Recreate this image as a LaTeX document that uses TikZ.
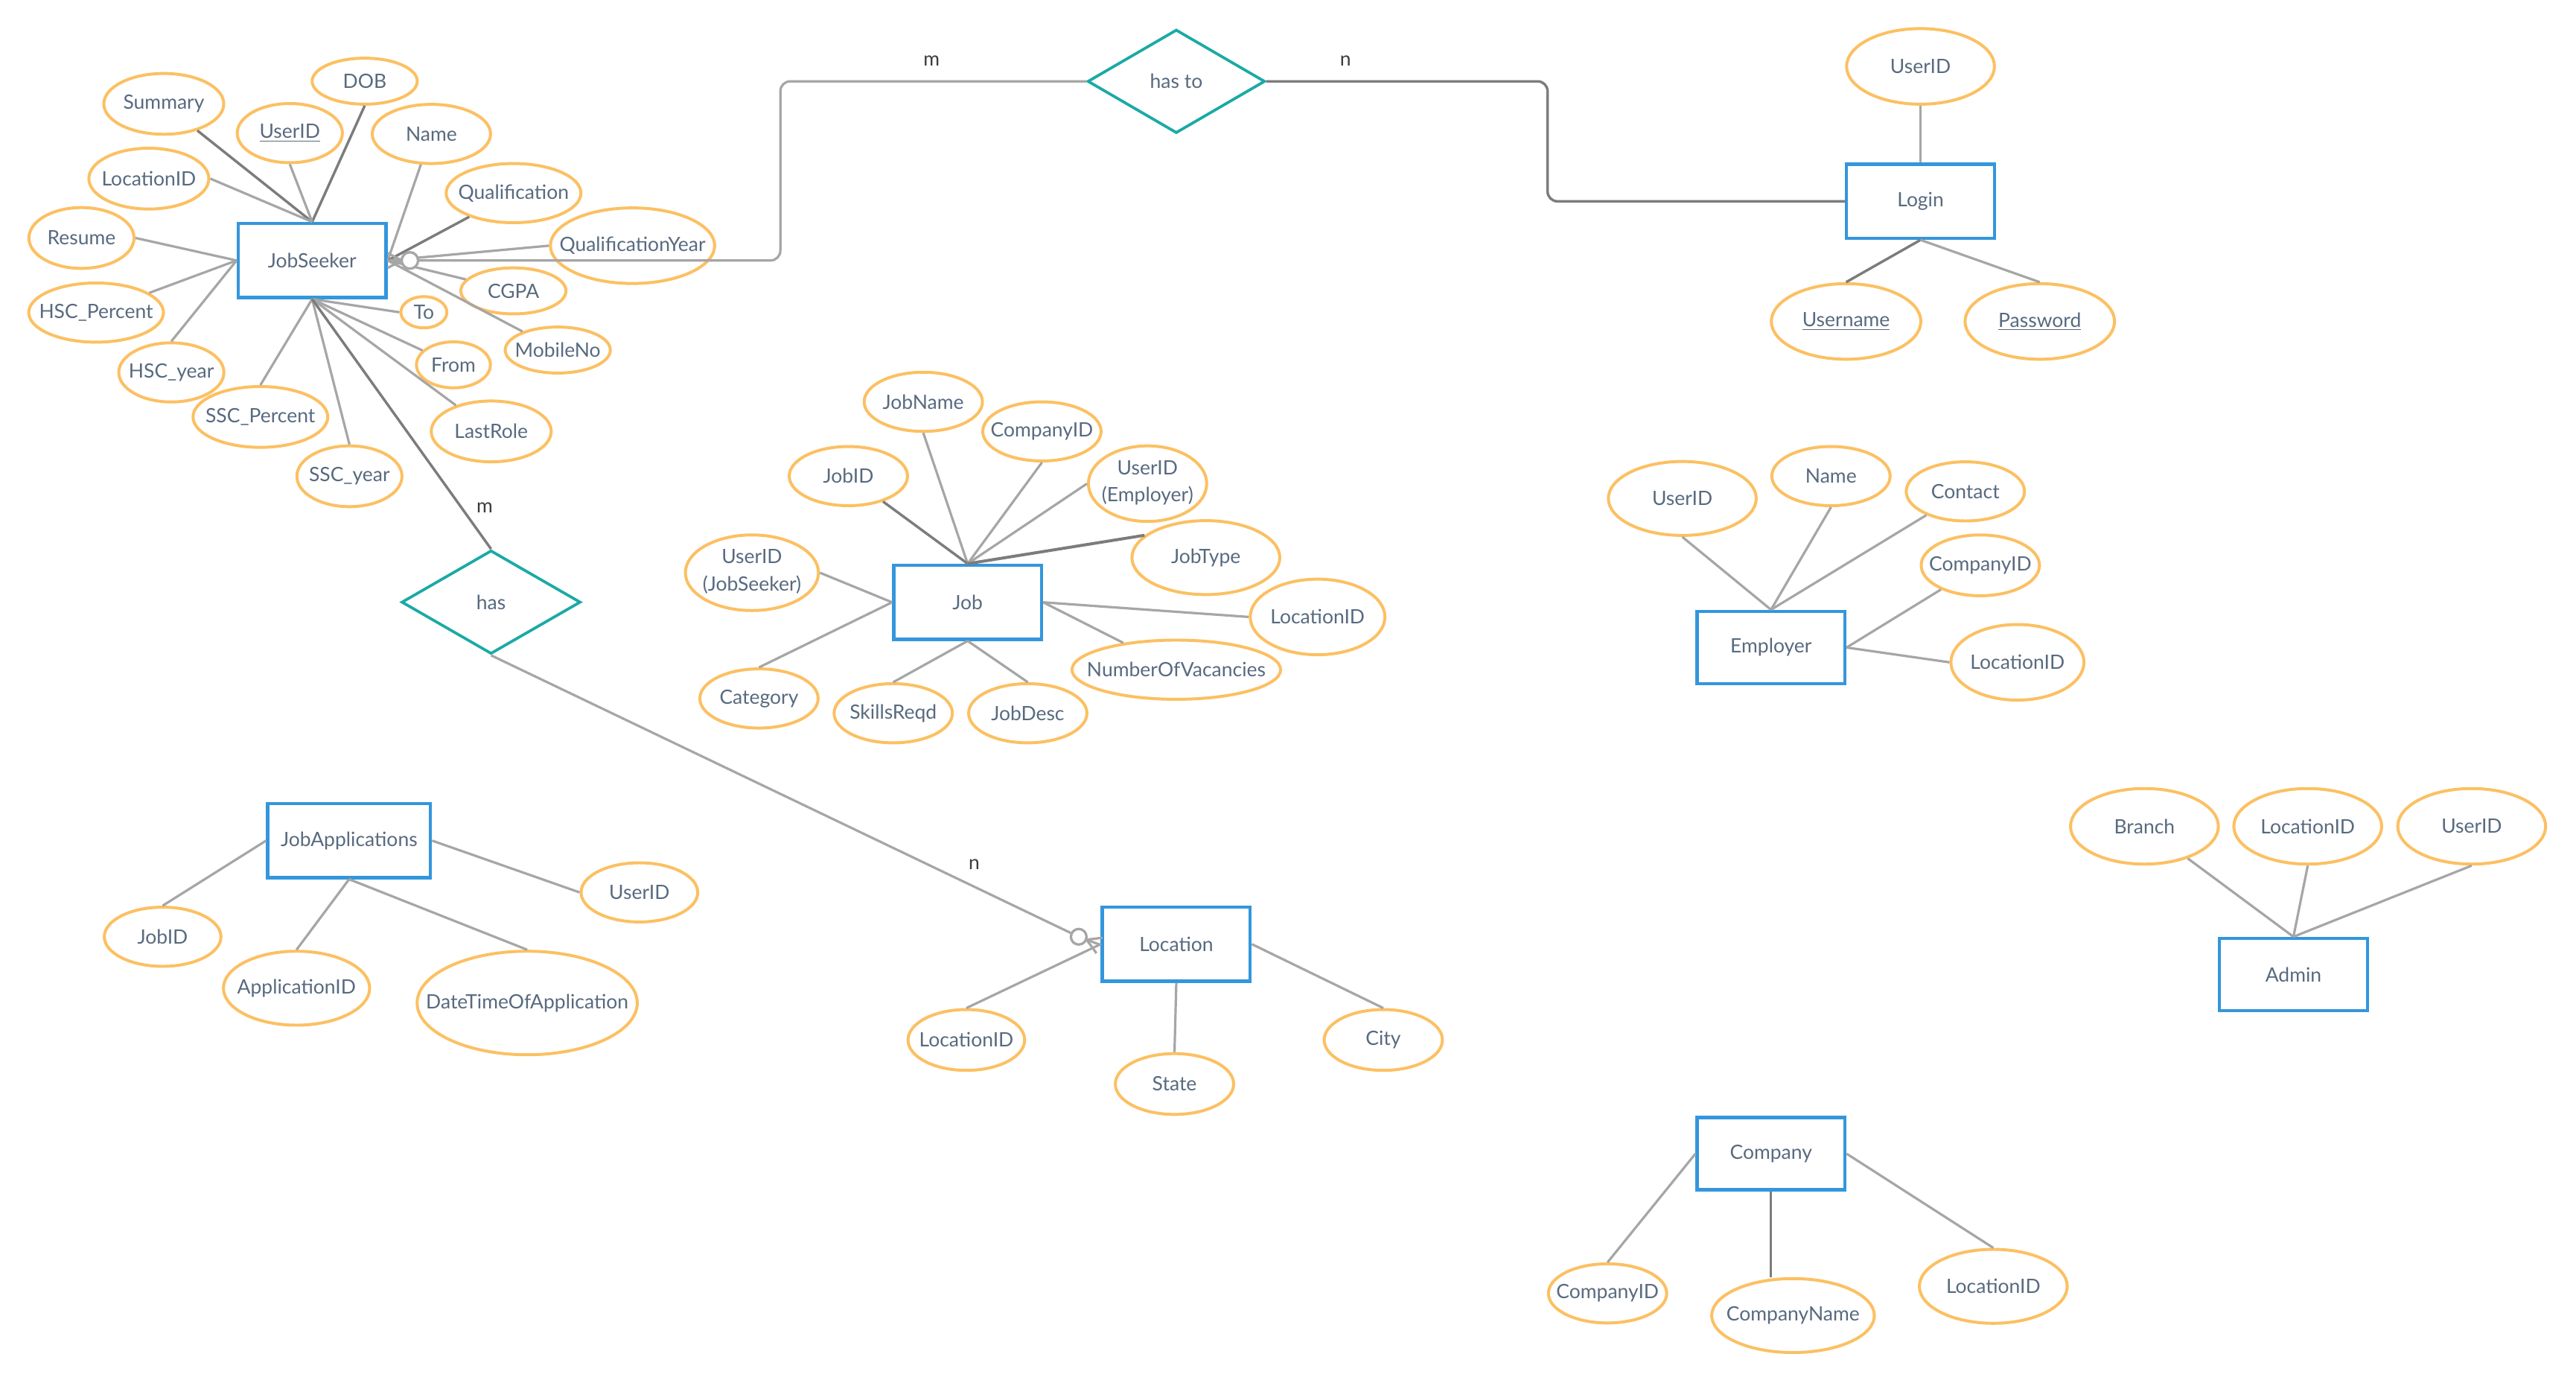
\documentclass[tikz,border=0pt]{standalone}
\usepackage{fontspec}
\setmainfont{Lato}
\usetikzlibrary{shapes.geometric,calc}
\definecolor{entblue}{HTML}{3496DC}
\definecolor{attrorange}{HTML}{FCC062}
\definecolor{reltealc}{HTML}{1BAAA5}
\definecolor{txtslate}{HTML}{586A7F}
\definecolor{lgray}{HTML}{A6A6A6}
\definecolor{dgray}{HTML}{7C7C7C}
\definecolor{cardtxt}{HTML}{3C3C3C}
% zero-width text so the ellipse keeps its given size
\newcommand{\attrtext}[1]{\makebox[0pt]{#1}}
\newcommand{\twolines}[2]{\makebox[0pt]{\begin{tabular}{@{}c@{}}#1\\[2.5pt]#2\end{tabular}}}
\begin{document}
\begin{tikzpicture}[x=1pt,y=-1pt,
  font=\fontsize{12}{14}\selectfont,
  ent/.style={draw=entblue, line width=2pt, minimum width=90, minimum height=45, inner sep=0pt, text=txtslate},
  attr/.style 2 args={ellipse, draw=attrorange, line width=1.8pt, inner sep=0pt, text=txtslate, minimum width=#1, minimum height=#2},
  rel/.style={diamond, draw=reltealc, line width=1.7pt, inner sep=0pt, minimum width=108, minimum height=63, text=txtslate},
  lt/.style={draw=lgray, line width=1.45pt},
  dk/.style={draw=dgray, line width=1.55pt},
  card/.style={text=cardtxt, inner sep=0pt},
  ring/.style={circle, draw=lgray, fill=white, line width=1.5pt, minimum size=10, inner sep=0pt}]
\useasboundingbox (0,0) rectangle (1568,843);
\fill[white] (0,0) rectangle (1568,843);

% ---------- entities ----------
\node[ent] (js) at (190,158.5) {JobSeeker};
\node[ent] (login) at (1169,122.5) {Login};
\node[ent] (job) at (589,366.5) {Job};
\node[ent, minimum height=44] (em) at (1078,394) {Employer};
\node[ent, minimum width=99] (ja) at (212.5,511.5) {JobApplications};
\node[ent] (loc) at (716,574.5) {Location};
\node[ent, minimum height=44] (ad) at (1396,593) {Admin};
\node[ent, minimum height=44] (co) at (1078,702) {Company};

% ---------- relationships ----------
\node[rel] (hasto) at (716,49.5) {has to};
\node[rel, minimum width=109] (has) at (298.9,366.4) {has};

% ---------- JobSeeker attributes ----------
\node[attr={73}{37}] (jsSummary) at (99.7,63.2) {\attrtext{Summary}};
\node[attr={64}{28}] (jsDOB) at (222,49.4) {\attrtext{DOB}};
\node[attr={64}{36}] (jsUser) at (176.4,81) {\attrtext{\underline{UserID}}};
\node[attr={72}{36}] (jsName) at (262.6,81.5) {\attrtext{Name}};
\node[attr={73}{37}] (jsLoc) at (90.6,108.7) {\attrtext{LocationID}};
\node[attr={82}{36}] (jsQual) at (312.6,117.5) {\attrtext{Qualification}};
\node[attr={64}{37}] (jsResume) at (49.6,144.8) {\attrtext{Resume}};
\node[attr={100}{46}] (jsQY) at (385,149.5) {\attrtext{QualificationYear}};
\node[attr={64}{28}] (jsCGPA) at (312.5,177) {\attrtext{CGPA}};
\node[attr={82}{36}] (jsHSCP) at (58.5,190.2) {\attrtext{HSC\_Percent}};
\node[attr={28}{19}] (jsTo) at (258,190) {\attrtext{To}};
\node[attr={64}{28}] (jsMobile) at (339.5,213) {\attrtext{MobileNo}};
\node[attr={45}{28}] (jsFrom) at (276,222) {\attrtext{From}};
\node[attr={64}{36}] (jsHSCY) at (104.3,226.6) {\attrtext{HSC\_year}};
\node[attr={82}{37}] (jsSSCP) at (158.5,253.7) {\attrtext{SSC\_Percent}};
\node[attr={73}{37}] (jsLast) at (299,262.5) {\attrtext{LastRole}};
\node[attr={64}{37}] (jsSSCY) at (212.7,289.8) {\attrtext{SSC\_year}};

% ---------- Login attributes ----------
\node[attr={90}{46}] (lgUser) at (1169,40.4) {\attrtext{UserID}};
\node[attr={91}{46}] (lgUname) at (1123.7,195.6) {\attrtext{\underline{Username}}};
\node[attr={91}{46}] (lgPass) at (1241.6,195.6) {\attrtext{\underline{Password}}};

% ---------- Job attributes ----------
\node[attr={72}{36}] (jbName) at (562,244.5) {\attrtext{JobName}};
\node[attr={72}{36}] (jbComp) at (634.2,262.5) {\attrtext{CompanyID}};
\node[attr={72}{36}] (jbID) at (516.4,289.7) {\attrtext{JobID}};
\node[attr={72}{46}] (jbUE) at (698.5,294.3) {\twolines{UserID}{(Employer)}};
\node[attr={90}{45}] (jbType) at (734,339.3) {\attrtext{JobType}};
\node[attr={81}{46}] (jbUJ) at (457.7,348.5) {\twolines{UserID}{(JobSeeker)}};
\node[attr={82}{46}] (jbLoc) at (802,375.4) {\attrtext{LocationID}};
\node[attr={127}{36}] (jbNum) at (716,407.5) {\attrtext{NumberOfVacancies}};
\node[attr={72}{36}] (jbCat) at (462,425) {\attrtext{Category}};
\node[attr={72}{36}] (jbSkill) at (543.7,434) {\attrtext{SkillsReqd}};
\node[attr={72}{36}] (jbDesc) at (625.6,434) {\attrtext{JobDesc}};

% ---------- Employer attributes ----------
\node[attr={90}{45}] (emUser) at (1024,303.3) {\attrtext{UserID}};
\node[attr={72}{36}] (emName) at (1114.5,289.7) {\attrtext{Name}};
\node[attr={72}{36}] (emContact) at (1196.3,299) {\attrtext{Contact}};
\node[attr={72}{37}] (emComp) at (1205.4,344) {\attrtext{CompanyID}};
\node[attr={81}{46}] (emLoc) at (1228,403) {\attrtext{LocationID}};

% ---------- Admin attributes ----------
\node[attr={90}{46}] (adBranch) at (1305.3,502.8) {\attrtext{Branch}};
\node[attr={90}{46}] (adLoc) at (1404.7,502.8) {\attrtext{LocationID}};
\node[attr={90}{46}] (adUser) at (1504.5,502.8) {\attrtext{UserID}};

% ---------- Company attributes ----------
\node[attr={72}{36}] (coID) at (978.5,787) {\attrtext{CompanyID}};
\node[attr={99}{45}] (coName) at (1091.4,800.5) {\attrtext{CompanyName}};
\node[attr={90}{45}] (coLoc) at (1213.3,782.7) {\attrtext{LocationID}};

% ---------- JobApplications attributes ----------
\node[attr={71}{36}] (jaUser) at (389.2,543) {\attrtext{UserID}};
\node[attr={71}{36}] (jaJob) at (99,570) {\attrtext{JobID}};
\node[attr={89}{45}] (jaApp) at (180.5,601.3) {\attrtext{ApplicationID}};
\node[attr={134}{63}] (jaDate) at (320.9,610.3) {\attrtext{DateTimeOfApplication}};

% ---------- Location attributes ----------
\node[attr={71}{37}] (lcID) at (588.2,632.8) {\attrtext{LocationID}};
\node[attr={72}{37}] (lcState) at (714.9,659.6) {\attrtext{State}};
\node[attr={72}{37}] (lcCity) at (842,632.8) {\attrtext{City}};

% ---------- attribute links ----------
\draw[dk] (jsSummary) -- (js.north);
\draw[dk] (jsDOB.south) -- (js.north);
\draw[lt] (jsUser.south) -- (js.north);
\draw[lt] (jsLoc.east) -- (js.north);
\draw[lt] (jsName) -- (js.east);
\draw[dk] (jsQual) -- (js.east);
\draw[lt] (jsQY.west) -- (js.east);
\draw[lt] (jsCGPA) -- (js.east);
\draw[lt] (jsMobile) -- (js.east);
\draw[lt] (jsResume.east) -- (js.west);
\draw[lt] (jsHSCP) -- (js.west);
\draw[lt] (jsHSCY.north) -- (js.west);
\draw[lt] (jsTo.west) -- (js.south);
\draw[lt] (jsFrom) -- (js.south);
\draw[lt] (jsLast) -- (js.south);
\draw[lt] (jsSSCY.north) -- (js.south);
\draw[lt] (jsSSCP.north) -- (js.south);

\draw[lt] (lgUser.south) -- (login.north);
\draw[dk] (lgUname.north) -- (login.south);
\draw[lt] (lgPass.north) -- (login.south);

\draw[lt] (jbName.south) -- (job.north);
\draw[lt] (jbComp.south) -- (job.north);
\draw[dk] (jbID) -- (job.north);
\draw[lt] (jbUE.west) -- (job.north);
\draw[dk, line width=1.8pt] (jbType.160) -- (job.north);
\draw[lt] (jbUJ.east) -- (job.west);
\draw[lt] (jbCat.north) -- (job.west);
\draw[lt] (jbSkill.north) -- (job.south);
\draw[lt] (jbDesc.north) -- (job.south);
\draw[lt] (jbLoc.west) -- (job.east);
\draw[lt] (jbNum) -- (job.east);

\draw[lt] (emUser.south) -- (em.north);
\draw[lt] (emName.south) -- (em.north);
\draw[lt] (emContact) -- (em.north);
\draw[lt] (emComp) -- (em.east);
\draw[lt] (emLoc.west) -- (em.east);

\draw[lt] (adBranch) -- (ad.north);
\draw[lt] (adLoc.south) -- (ad.north);
\draw[lt] (adUser.south) -- (ad.north);

\draw[lt] (coID.north) -- (co.west);
\draw[dk] (co.south) -- (co.south |- coName.north);
\draw[lt] (coLoc.north) -- (co.east);

\draw[lt] (jaJob.north) -- (ja.west);
\draw[lt] (jaUser.west) -- (ja.east);
\draw[lt] (jaApp.north) -- (ja.south);
\draw[lt] (jaDate.north) -- (ja.south);

\draw[lt] (lcID.north) -- (loc.west);
\draw[lt] (lcState.north) -- (loc.south);
\draw[lt] (lcCity.north) -- (loc.east);

% ---------- relationship links ----------
\coordinate (bendL) at (475,0);
\coordinate (bendR) at (942,0);
\draw[lt, rounded corners=6pt] (js.east) -- (js.east -| bendL) -- (bendL |- hasto.west) -- (hasto.west);
\draw[dk, rounded corners=6pt] (hasto.east) -- (hasto.east -| bendR) -- (bendR |- login.west) -- (login.west);
\draw[dk] (js.south) -- (has.north);

% crow's foot with ring at JobSeeker
\coordinate (jsv) at ($(js.east)+(8.5,0)$);
\draw[lt] (jsv) -- ($(js.east)+(0,-4.5)$);
\draw[lt] (jsv) -- ($(js.east)+(0,4.5)$);
\node[ring] (jsring) at ($(js.east)+(13.5,0)$) {};

% crow's foot with ring at Location
\node[ring, minimum size=9.5] (locring) at ($(loc.west)+(-13.4,-4.5)$) {};
\coordinate (locv) at ($(loc.west)+(-8.6,-2.7)$);
\draw[lt] (has.south) -- (locring);
\draw[lt] (locring) -- (locv);
\draw[lt] (locv) -- ($(loc.west)+(1,-3.9)$);
\draw[lt] (locv) -- ($(loc.west)+(-2.6,5.5)$);
\draw[lt] (locv) -- ($(loc.west)+(0,0.5)$);

% ---------- cardinalities ----------
\node[card] (cm1) at (567,37) {m};
\node[card] (cn1) at (819,37) {n};
\node[card] (cm2) at (295,309) {m};
\node[card] (cn2) at (593,526) {n};
\end{tikzpicture}
\end{document}
